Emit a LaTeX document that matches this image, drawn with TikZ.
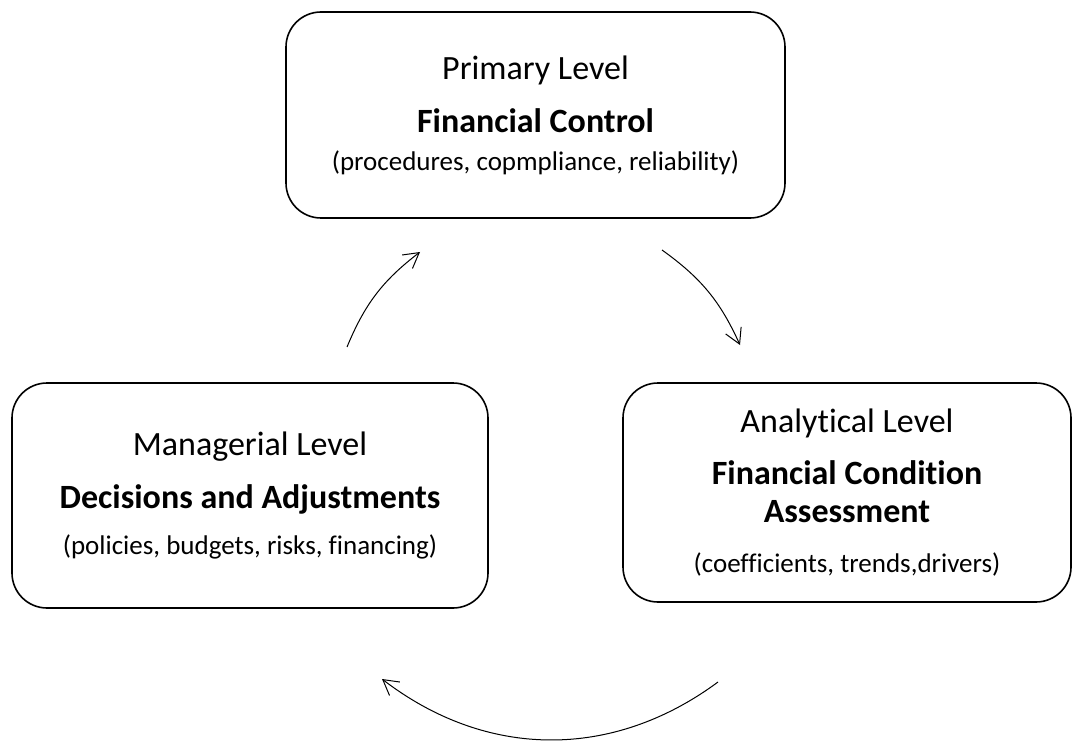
\documentclass[tikz,border=0pt]{standalone}
\usepackage{fontspec}
\setmainfont[Ligatures=NoCommon]{Carlito}
\usetikzlibrary{arrows.meta,positioning}
\newcommand\cstbig{\fontsize{34}{42}\selectfont}
\newcommand\cstsmall{\fontsize{27}{33}\selectfont}
\tikzset{
  % node
	cstbox/.style     ={draw=black,fill=white,text=black,rounded corners=35pt,line width=1.6pt,align=center,inner sep=0pt,font=\cstbig},
  % arrow
	cstarc/.style     ={-{Straight Barb[length=15pt,width=17pt]}, line width=1pt}
}
\begin{document}
\begin{tikzpicture}[x=1pt,y=-1pt]
	\useasboundingbox (0,0) rectangle (1073,743);
	% levels
	\node[cstbox,minimum width=499pt,minimum height=206pt] (primary) at (535.5,115)
		{Primary Level\\[11pt] \textbf{Financial Control}\\[-4pt] {\cstsmall (procedures, copmpliance, reliability)}};
	\node[cstbox,minimum width=476pt,minimum height=225pt] (managerial) at (250,495.5)
		{Managerial Level\\[11pt] \textbf{Decisions and Adjustments}\\[4pt] {\cstsmall (policies, budgets, risks, financing)}};
	\node[cstbox,minimum width=448pt,minimum height=219pt] (analytical) at (847,492.5)
		{Analytical Level\\[10pt] \textbf{Financial Condition}\\[-4pt] \textbf{Assessment}\\[8pt] {\cstsmall (coefficients, trends,drivers)}};
	% cycle
	\coordinate (m1) at (347,347);
	\coordinate (p1) at (420,252);
	\coordinate (p2) at (662,250);
	\coordinate (a1) at (740,345);
	\coordinate (a2) at (718,682);
	\coordinate (m2) at (382,679);
	\draw[cstarc] (m1) to[bend left=15] (p1);
	\draw[cstarc] (p2) to[bend left=15] (a1);
	\draw[cstarc] (a2) to[bend left=37] (m2);
\end{tikzpicture}
\end{document}
